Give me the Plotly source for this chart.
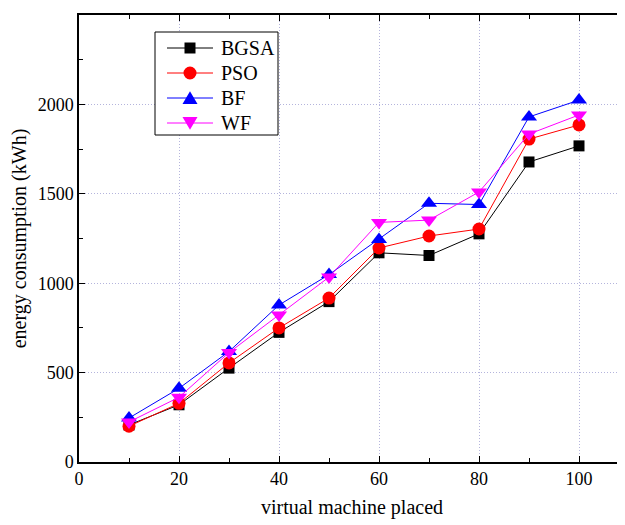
import plotly.graph_objects as go

x_vals = [10, 20, 30, 40, 50, 60, 70, 80, 90, 100]
bgsa = [207, 320, 525, 725, 897, 1170, 1155, 1276, 1678, 1768]
pso = [200, 328, 554, 750, 917, 1197, 1264, 1303, 1806, 1885]
bf = [246, 412, 618, 878, 1048, 1245, 1447, 1440, 1930, 2024]
wf = [224, 362, 612, 822, 1034, 1340, 1353, 1510, 1834, 1941]

series = [
    ("BGSA", bgsa, "black", "square", 11),
    ("PSO", pso, "red", "circle", 13),
    ("BF", bf, "blue", "triangle-up", 14),
    ("WF", wf, "magenta", "triangle-down", 14),
]

FONT = "Liberation Serif, Times New Roman, serif"

# plot area geometry (pixels inside the figure)
W, H = 617, 517
L, R, T, B = 71, 0, 7, 63
PW, PH = W - L - R, H - T - B


def px(xp):
    return (xp - L) / PW


def py(yp):
    return (H - B - yp) / PH


fig = go.Figure()
for name, vals, col, sym, sz in series:
    fig.add_trace(go.Scatter(
        x=x_vals, y=vals, name=name, mode="lines+markers",
        line=dict(color=col, width=1),
        marker=dict(color=col, symbol=sym, size=sz, line=dict(width=0)),
        showlegend=False,
    ))

# custom legend (box, sample lines, sample markers, labels)
shapes = []
annotations = []
box = (147, 24, 270, 127)
shapes.append(dict(type="rect", xref="paper", yref="paper",
                   x0=px(box[0]), x1=px(box[2]), y0=py(box[3]), y1=py(box[1]),
                   line=dict(color="black", width=1), fillcolor="white", layer="above"))
row0, dy = 40, 25
lx0, lx1, mx, tx = 159, 205, 182, 211
for i, (name, vals, col, sym, sz) in enumerate(series):
    yc = row0 + i * dy
    shapes.append(dict(type="line", xref="paper", yref="paper",
                       x0=px(lx0), x1=px(lx1), y0=py(yc), y1=py(yc),
                       line=dict(color=col, width=1), layer="above"))
    if sym == "square":
        h = 5.5
        shapes.append(dict(type="rect", xref="paper", yref="paper",
                           x0=px(mx - h), x1=px(mx + h), y0=py(yc + h), y1=py(yc - h),
                           fillcolor=col, line=dict(width=0), layer="above"))
    elif sym == "circle":
        h = 6.5
        shapes.append(dict(type="circle", xref="paper", yref="paper",
                           x0=px(mx - h), x1=px(mx + h), y0=py(yc + h), y1=py(yc - h),
                           fillcolor=col, line=dict(width=0), layer="above"))
    else:
        h = 7.5
        if sym == "triangle-up":
            pts = [(mx - h, yc + h * 0.8), (mx + h, yc + h * 0.8), (mx, yc - h * 0.9)]
        else:
            pts = [(mx - h, yc - h * 0.8), (mx + h, yc - h * 0.8), (mx, yc + h * 0.9)]
        path = "M {} {} L {} {} L {} {} Z".format(
            px(pts[0][0]), py(pts[0][1]), px(pts[1][0]), py(pts[1][1]), px(pts[2][0]), py(pts[2][1]))
        shapes.append(dict(type="path", xref="paper", yref="paper", path=path,
                           fillcolor=col, line=dict(width=0), layer="above"))
    annotations.append(dict(xref="paper", yref="paper", x=px(tx), y=py(yc),
                            xanchor="left", yanchor="middle", showarrow=False,
                            text=name, font=dict(family=FONT, size=20, color="black")))

GRID = "#b4b4dc"
fig.update_layout(
    width=W, height=H,
    margin=dict(l=L, r=R, t=T, b=B),
    paper_bgcolor="white", plot_bgcolor="white",
    font=dict(family=FONT, size=18, color="black"),
    showlegend=False,
    shapes=shapes,
    annotations=annotations,
    xaxis=dict(
        range=[0, 109.2], tickvals=[0, 20, 40, 60, 80, 100],
        ticks="inside", ticklen=6, tickwidth=1, tickcolor="black",
        minor=dict(tickvals=[10, 30, 50, 70, 90], ticks="inside", ticklen=4, tickcolor="black", showgrid=False),
        showline=True, linecolor="black", linewidth=1.5, mirror="ticks",
        showgrid=True, gridcolor=GRID, griddash="1px,2px", gridwidth=1,
        zeroline=False,
        tickfont=dict(family=FONT, size=18),
        title=dict(text="virtual machine placed", font=dict(family=FONT, size=20), standoff=12),
    ),
    yaxis=dict(
        range=[0, 2500], tickvals=[0, 500, 1000, 1500, 2000, 2500],
        ticks="inside", ticklen=6, tickwidth=1, tickcolor="black",
        minor=dict(tickvals=[250, 750, 1250, 1750, 2250], ticks="inside", ticklen=4, tickcolor="black", showgrid=False),
        showline=True, linecolor="black", linewidth=1.5, mirror=False,
        showgrid=True, gridcolor=GRID, griddash="1px,2px", gridwidth=1,
        zeroline=False,
        tickfont=dict(family=FONT, size=18),
        title=dict(text="energy consumption (kWh)", font=dict(family=FONT, size=20), standoff=8),
    ),
)

fig.write_html("out.html")
